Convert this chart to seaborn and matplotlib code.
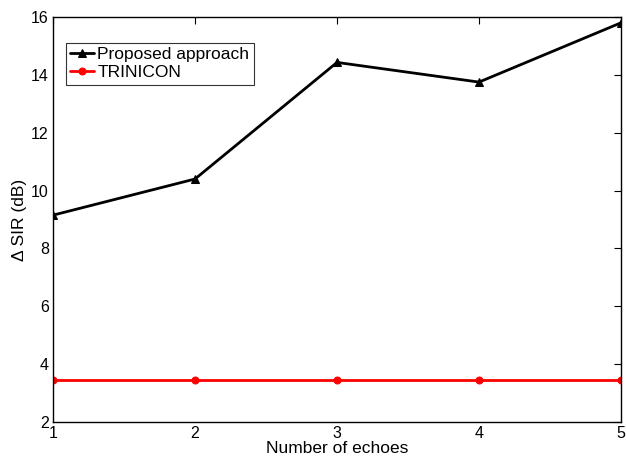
import matplotlib
matplotlib.use("Agg")
import matplotlib.pyplot as plt
import seaborn as sns
import pandas as pd

echoes = [1, 2, 3, 4, 5]
proposed = [9.15, 10.4, 14.43, 13.75, 15.8]
trinicon = [3.46, 3.46, 3.46, 3.46, 3.46]
yticks = [2, 4, 6, 8, 10, 12, 14, 16]

sns.set_theme(style="white")
plt.rcParams['font.family'] = ['Liberation Sans', 'DejaVu Sans']
plt.rcParams['text.color'] = 'black'
plt.rcParams['axes.labelcolor'] = 'black'

fig = plt.figure(figsize=(6.26, 4.57), dpi=100)
ax = fig.add_axes([0.0847, 0.0766, 0.9073, 0.8862])

df = pd.DataFrame({"x": echoes * 2,
                   "y": proposed + trinicon,
                   "method": ["Proposed approach"] * 5 + ["TRINICON"] * 5})

sns.lineplot(data=df[df.method == "Proposed approach"], x="x", y="y", ax=ax,
             color="black", marker="^", markersize=6, linewidth=2,
             markeredgecolor="black", label="Proposed approach")
sns.lineplot(data=df[df.method == "TRINICON"], x="x", y="y", ax=ax,
             color="red", marker="o", markersize=5, linewidth=2,
             markeredgecolor="red", label="TRINICON")

ax.set_xlim(1, 5)
ax.set_ylim(2, 16)
ax.set_xticks(echoes)
ax.set_yticks(yticks)
ax.set_xlabel("Number of echoes", fontsize=12.5, labelpad=0, color="black")
ax.set_ylabel("Δ SIR (dB)", fontsize=12.5, labelpad=3, color="black")
ax.tick_params(direction="in", length=5, width=0.8, top=True, right=True,
               labelsize=11.5, colors="black", pad=3)
for s in ax.spines.values():
    s.set_color("black")
    s.set_linewidth(1)
    s.set_visible(True)

leg = ax.legend(loc="upper left", bbox_to_anchor=(0.023, 0.936), fontsize=12.5,
                frameon=True, fancybox=False, borderpad=0.25, labelspacing=0.15,
                handlelength=1.35, handletextpad=0.2, borderaxespad=0)
leg.get_frame().set_edgecolor("black")
leg.get_frame().set_linewidth(0.8)
for t in leg.get_texts():
    t.set_color("black")

fig.savefig("out.png", dpi=100)
